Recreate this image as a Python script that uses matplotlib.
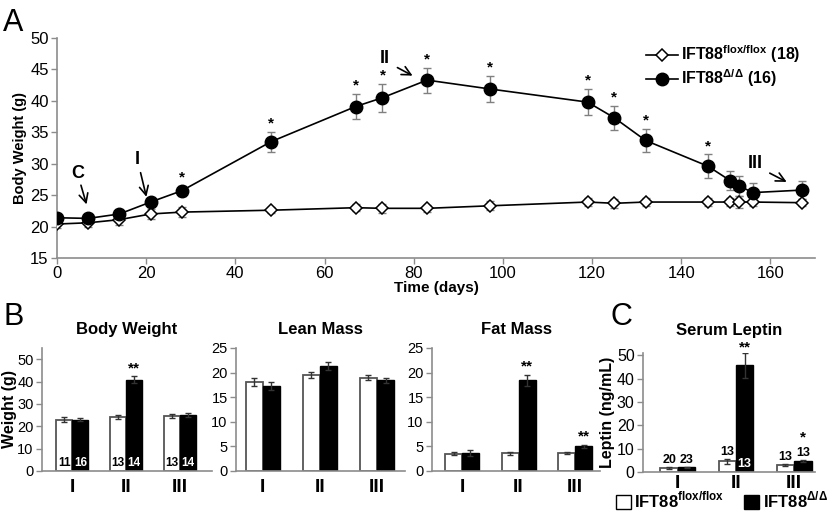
import numpy as np
import matplotlib
matplotlib.use('Agg')
import matplotlib.pyplot as plt
from matplotlib.patches import Patch

plt.rcParams['font.family'] = ['Liberation Sans', 'DejaVu Sans']
plt.rcParams['mathtext.fontset'] = 'custom'
plt.rcParams['mathtext.rm'] = 'Liberation Sans'
plt.rcParams['mathtext.bf'] = 'Liberation Sans:bold'

# panel A - body weight over time
days = [0, 7, 14, 21, 28, 48, 67, 73, 83, 97, 119, 125, 132, 146, 151, 153, 156, 167]
flox = [20.4, 20.6, 21.1, 22.0, 22.3, 22.6, 23.0, 22.9, 22.9, 23.3, 23.9, 23.7, 23.9, 23.9, 23.9, 23.9, 23.9, 23.8]
flox_err = [0.6, 0.7, 0.8, 0.8, 0.8, 0.5, 0.6, 0.7, 0.6, 0.7, 0.6, 0.7, 0.6, 0.6, 0.6, 0.9, 0.6, 0.6]
delta = [21.4, 21.3, 22.0, 23.9, 25.7, 33.5, 39.1, 40.5, 43.3, 41.9, 39.8, 37.3, 33.7, 29.6, 27.3, 26.5, 25.4, 25.8]
delta_err = [0.4, 0.5, 0.5, 0.6, 0.8, 1.6, 2.0, 2.2, 2.0, 2.1, 2.1, 1.9, 1.9, 1.9, 1.5, 1.6, 1.6, 1.4]
star_days = [28, 48, 67, 73, 83, 97, 119, 125, 132, 146]

# panels B and C - time points I, II, III
groups = ['I', 'II', 'III']
bw_flox = [22.9, 24.2, 24.6]
bw_flox_err = [1.2, 0.9, 0.8]
bw_delta = [23.0, 40.8, 25.0]
bw_delta_err = [0.6, 1.5, 0.8]
bw_n_flox = [11, 13, 13]
bw_n_delta = [16, 14, 14]
bw_sig = ['', '**', '']

lean_flox = [18.1, 19.5, 19.0]
lean_flox_err = [0.9, 0.7, 0.5]
lean_delta = [17.3, 21.3, 18.4]
lean_delta_err = [0.8, 0.8, 0.5]

fat_flox = [3.5, 3.6, 3.6]
fat_flox_err = [0.3, 0.3, 0.2]
fat_delta = [3.7, 18.4, 5.0]
fat_delta_err = [0.6, 1.2, 0.3]
fat_sig = ['', '**', '**']

lep_flox = [1.7, 4.6, 3.0]
lep_flox_err = [0.4, 1.0, 0.5]
lep_delta = [2.0, 45.7, 4.6]
lep_delta_err = [0.3, 5.2, 0.5]
lep_n_flox = [20, 13, 13]
lep_n_delta = [23, 13, 13]
lep_sig = ['', '**', '*']

lab_flox = r'IFT88$^{\mathbf{flox/flox}}$'
lab_delta = r'IFT88$^{\mathbf{Δ/Δ}}$'

spine_c = '#8c8c8c'


def style_axes(ax, tick_size):
    for s in ['top', 'right']:
        ax.spines[s].set_visible(False)
    for s in ['left', 'bottom']:
        ax.spines[s].set_color(spine_c)
        ax.spines[s].set_linewidth(1.2)
    ax.tick_params(colors=spine_c, labelcolor='black', labelsize=tick_size, length=4, width=1, pad=2)


fig = plt.figure(figsize=(8.27, 5.17), dpi=100)

# ---- A ----
axA = fig.add_axes([0.0689, 0.501, 0.9166, 0.4255])
style_axes(axA, 12)
axA.errorbar(days, flox, yerr=flox_err, fmt='none', ecolor='#808080', elinewidth=1, capsize=3, zorder=2)
axA.errorbar(days, delta, yerr=delta_err, fmt='none', ecolor='#808080', elinewidth=1, capsize=3, zorder=2)
axA.plot(days, flox, '-', color='black', lw=1.2, marker='D', ms=6, mfc='white', mec='black', mew=1.1, zorder=3,
         label=lab_flox + ' (18)')
axA.plot(days, delta, '-', color='black', lw=1.2, marker='o', ms=9, mfc='black', mec='black', zorder=4,
         label=lab_delta + ' (16)')
for d, v, e in zip(days, delta, delta_err):
    if d in star_days:
        axA.text(d, v + e + 0.2, '*', ha='center', va='bottom', fontsize=11, fontweight='bold')
axA.set_xlim(0, 170)
axA.set_ylim(15, 50)
axA.set_xticks(range(0, 161, 20))
axA.set_yticks(range(15, 51, 5))
axA.set_xlabel('Time (days)', fontsize=11, fontweight='bold', labelpad=0)
axA.set_ylabel('Body Weight (g)', fontsize=10.5, fontweight='bold', labelpad=2)
axA.legend(loc='upper right', bbox_to_anchor=(1.0, 1.04), frameon=False, handlelength=2.0, handletextpad=0.2,
           labelspacing=0.15, prop={'weight': 'bold', 'size': 11.5})

arrows = [('C', (4.7, 28.5), (5.2, 27.0), (6.8, 23.1)),
          ('I', (17.9, 30.6), (18.6, 29.0), (20.2, 24.3)),
          ('II', (73.5, 46.8), (75.8, 45.5), (80.3, 43.8)),
          ('III', (156.5, 30.1), (159.3, 28.7), (164.2, 26.9))]
for txt, tpos, tail, head in arrows:
    axA.text(tpos[0], tpos[1], txt, ha='center', va='center', fontsize=13, fontweight='bold')
    axA.annotate('', xy=head, xytext=tail, arrowprops=dict(arrowstyle='->', color='black', lw=1.2, mutation_scale=16))


# ---- B / C bar panels ----
def bar_panel(rect, f, fe, dl, de, ylim, yticks, title, tick_size, xlim, sig=None, xpad=6, tpad=10):
    ax = fig.add_axes(rect)
    style_axes(ax, tick_size)
    x = np.arange(len(groups))
    w = 0.3
    ax.bar(x - w / 2, f, w, color='white', edgecolor='#555555', linewidth=1.3, zorder=2)
    ax.bar(x + w / 2, dl, w, color='black', edgecolor='black', linewidth=1, zorder=2)
    ax.errorbar(x - w / 2, f, yerr=fe, fmt='none', ecolor='#333333', elinewidth=1, capsize=2.5, zorder=3)
    ax.errorbar(x + w / 2, dl, yerr=de, fmt='none', ecolor='#333333', elinewidth=1, capsize=2.5, zorder=3)
    if sig:
        for xi, v, e, s in zip(x, dl, de, sig):
            if s:
                ax.text(xi + w / 2, v + e + ylim[1] * 0.01, s, ha='center', va='bottom', fontsize=11, fontweight='bold')
    ax.set_xlim(*xlim)
    ax.set_ylim(*ylim)
    ax.set_yticks(yticks)
    ax.set_xticks(x)
    ax.set_xticklabels(groups, fontsize=14, fontweight='bold')
    ax.tick_params(axis='x', length=0, pad=xpad)
    ax.set_title(title, fontsize=12, fontweight='bold', pad=tpad)
    return ax


axB1 = bar_panel([0.0508, 0.089, 0.2055, 0.2379], bw_flox, bw_flox_err, bw_delta, bw_delta_err,
                 (0, 55), range(0, 51, 10), 'Body Weight', 10.5, (-0.56, 2.59), bw_sig)
axB1.set_ylabel('Weight (g)', fontsize=11.5, fontweight='bold', labelpad=0)
for xi, nf, nd in zip(range(3), bw_n_flox, bw_n_delta):
    axB1.text(xi - 0.15, 0.8, str(nf), ha='center', va='bottom', fontsize=8.5, fontweight='bold', color='black', zorder=4)
    axB1.text(xi + 0.15, 0.8, str(nd), ha='center', va='bottom', fontsize=8.5, fontweight='bold', color='white', zorder=4)

axB2 = bar_panel([0.2854, 0.089, 0.2043, 0.2379], lean_flox, lean_flox_err, lean_delta, lean_delta_err,
                 (0, 25), range(0, 26, 5), 'Lean Mass', 10.5, (-0.47, 2.49))

axB3 = bar_panel([0.5224, 0.089, 0.2031, 0.2379], fat_flox, fat_flox_err, fat_delta, fat_delta_err,
                 (0, 25), range(0, 26, 5), 'Fat Mass', 10.5, (-0.53, 2.44), fat_sig)

axC = bar_panel([0.7775, 0.087, 0.208, 0.2302], lep_flox, lep_flox_err, lep_delta, lep_delta_err,
                (0, 51), range(0, 51, 10), 'Serum Leptin', 11.5, (-0.6, 2.36), xpad=2, tpad=13)
axC.set_ylabel('Leptin (ng/mL)', fontsize=11.5, fontweight='bold', labelpad=1)
for xi in range(3):
    top_f = lep_flox[xi] + lep_flox_err[xi]
    axC.text(xi - 0.15, top_f + 0.3, str(lep_n_flox[xi]), ha='center', va='bottom', fontsize=9, fontweight='bold')
    if lep_delta[xi] > 20:
        axC.text(xi + 0.15, 0.8, str(lep_n_delta[xi]), ha='center', va='bottom', fontsize=9, fontweight='bold',
                 color='white', zorder=4)
    else:
        top_d = lep_delta[xi] + lep_delta_err[xi]
        axC.text(xi + 0.15, top_d + 0.3, str(lep_n_delta[xi]), ha='center', va='bottom', fontsize=9, fontweight='bold')
for xi, s in enumerate(lep_sig):
    if s == '**':
        axC.text(xi + 0.15, lep_delta[xi] + lep_delta_err[xi] - 0.5, s, ha='center', va='bottom', fontsize=11, fontweight='bold')
    elif s == '*':
        axC.text(xi + 0.15, lep_delta[xi] + lep_delta_err[xi] + 6.5, s, ha='center', va='bottom', fontsize=11, fontweight='bold')

handles = [Patch(facecolor='white', edgecolor='black', linewidth=1), Patch(facecolor='black', edgecolor='black')]
fig.legend(handles, [lab_flox, lab_delta], loc='center', bbox_to_anchor=(0.873, 0.032), ncol=2, frameon=False,
           handlelength=0.9, handleheight=0.9, handletextpad=0.2, columnspacing=1.2,
           borderpad=0.1, prop={'weight': 'bold', 'size': 12})

# panel letters
fig.text(0.004, 0.985, 'A', fontsize=22, va='top', ha='left')
fig.text(0.004, 0.415, 'B', fontsize=22, va='top', ha='left')
fig.text(0.738, 0.415, 'C', fontsize=22, va='top', ha='left')

fig.savefig('out.png', dpi=100)
